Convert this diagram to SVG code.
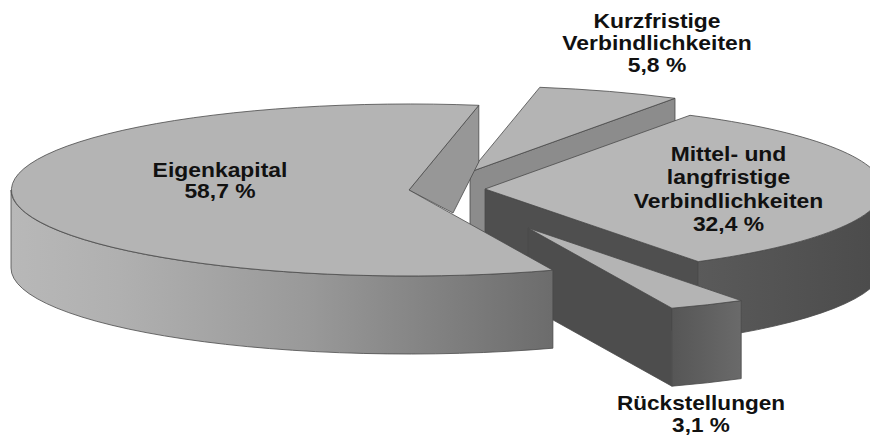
<svg xmlns="http://www.w3.org/2000/svg" width="870" height="436" viewBox="0 0 870 436">
  <style>
    .edge { stroke: #4a4a4a; stroke-width: 0.8; stroke-linejoin: round; }
    .top { fill: #b4b4b4; }
    .lbl { font-family: "Liberation Sans", Arial, sans-serif; font-weight: bold; font-size: 21px; fill: #111; text-anchor: middle; }
    .sm { font-size: 20px; }
  </style>
  <defs>
    <linearGradient id="gE" gradientUnits="userSpaceOnUse" x1="11" y1="0" x2="553" y2="0">
      <stop offset="0" stop-color="#b8b8b8"/>
      <stop offset="0.2" stop-color="#b0b0b0"/>
      <stop offset="0.55" stop-color="#999999"/>
      <stop offset="1" stop-color="#6c6c6c"/>
    </linearGradient>
    <linearGradient id="gM" gradientUnits="userSpaceOnUse" x1="698" y1="0" x2="870" y2="0">
      <stop offset="0" stop-color="#5a5a5a"/>
      <stop offset="1" stop-color="#4c4c4c"/>
    </linearGradient>
    <linearGradient id="gR" gradientUnits="userSpaceOnUse" x1="672" y1="0" x2="741" y2="0">
      <stop offset="0" stop-color="#565656"/>
      <stop offset="1" stop-color="#6a6a6a"/>
    </linearGradient>
  </defs>
  <rect width="870" height="436" fill="#ffffff"/>

  <g id="kurzfristige">
    <path class="edge" fill="#8c8c8c" d="M470,172 L675,98.3 L675,176.3 L470,250 Z"/>
    <path class="edge top" d="M470,172 L539.8,87.3 A398,86 0 0 1 675,98.3 Z"/>
    <g transform="translate(657,0) scale(1.09,1)">
      <text class="lbl" x="0" y="28.3">Kurzfristige</text>
      <text class="lbl" x="0" y="50">Verbindlichkeiten</text>
      <text class="lbl" x="0" y="71.7">5,8 %</text>
    </g>
  </g>

  <g id="mittel-langfristige">
    <path class="edge" fill="#4f4f4f" d="M485,189 L698.3,261.6 L698.3,339.6 L485,267 Z"/>
    <path class="edge" fill="url(#gM)" d="M883,189 A398,86 0 0 1 698.3,261.6 L698.3,339.6 A398,86 0 0 0 883,267 Z"/>
    <path class="edge" fill="#b7b7b7" d="M485,189 L690,115.3 A398,86 0 0 1 698.3,261.6 Z"/>
    <g transform="translate(728.5,0) scale(1.09,1)">
      <text class="lbl" x="0" y="161.5">Mittel- und</text>
      <text class="lbl" x="0" y="184.5">langfristige</text>
      <text class="lbl" x="0" y="208">Verbindlichkeiten</text>
      <text class="lbl" x="0" y="231">32,4 %</text>
    </g>
  </g>

  <g id="rueckstellungen">
    <path class="edge" fill="#4d4d4d" d="M528,228 L671.9,308.2 L671.9,386.2 L528,306 Z"/>
    <path class="edge" fill="url(#gR)" d="M741.2,300.6 A398,86 0 0 1 671.9,308.2 L671.9,386.2 A398,86 0 0 0 741.2,378.6 Z"/>
    <path class="edge top" d="M528,228 L741.2,300.6 A398,86 0 0 1 671.9,308.2 Z"/>
    <g transform="translate(701,0) scale(1.13,1)">
      <text class="lbl sm" x="0" y="410.5">Rückstellungen</text>
      <text class="lbl sm" x="0" y="432">3,1 %</text>
    </g>
  </g>

  <g id="eigenkapital">
    <path class="edge" fill="#979797" d="M409,190 L478.8,105.3 L478.8,162 L453,213 Z"/>
    <path class="edge" fill="url(#gE)" d="M552.9,270.2 A398,86 0 0 1 11,190 L11,268 A398,86 0 0 0 552.9,348.2 Z"/>
    <path class="edge top" d="M409,190 L552.9,270.2 A398,86 0 1 1 478.8,105.3 Z"/>
    <g transform="translate(220,0) scale(1.09,1)">
      <text class="lbl" x="0" y="176.7">Eigenkapital</text>
      <text class="lbl" x="0" y="198.3">58,7 %</text>
    </g>
  </g>
</svg>
